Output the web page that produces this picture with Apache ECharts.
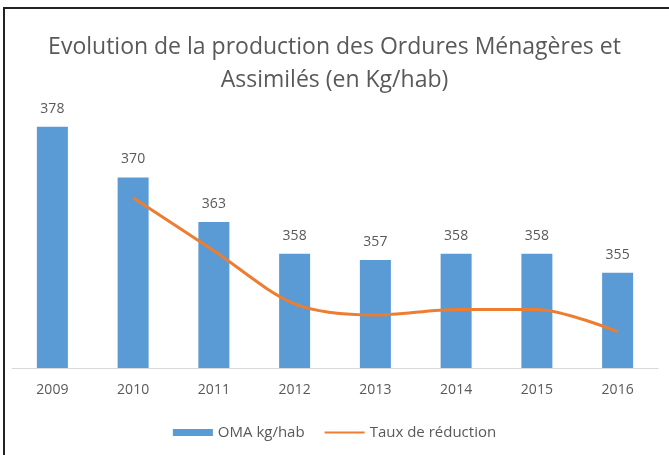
<!DOCTYPE html>
<html>
<head>
<meta charset="utf-8">
<script src="https://cdn.jsdelivr.net/npm/echarts@6/dist/echarts.min.js"></script>
<style>
  html, body { margin: 0; padding: 0; background: #fff; }
  #frame { position: absolute; left: 3px; top: 7px; width: 680px; height: 460px;
           border-left: 2px solid #222; border-top: 2px solid #222; }
  #main { position: absolute; left: 0; top: 0; width: 669px; height: 455px; }
</style>
</head>
<body>
<div id="frame"></div>
<div id="main"></div>
<script>
const years = ['2009', '2010', '2011', '2012', '2013', '2014', '2015', '2016'];
const omaKgHab = [378, 370, 363, 358, 357, 358, 358, 355];
// taux de réduction (%)
const tauxReduction = [null, -2.1, -4.0, -5.9, -6.3, -6.1, -6.1, -6.9];

let myChart = echarts.init(document.getElementById('main'));

myChart.setOption({
  animation: false,
  title: {
    text: 'Evolution de la production des Ordures Ménagères et\nAssimilés (en Kg/hab)',
    left: 'center',
    top: 26,
    textStyle: {
      fontFamily: 'Open Sans',
      fontWeight: 'normal',
      fontSize: 23,
      lineHeight: 33,
      color: '#595959'
    }
  },
  legend: {
    top: 420,
    left: 'center',
    itemWidth: 40,
    itemHeight: 7,
    itemGap: 20,
    textStyle: { fontFamily: 'Open Sans', fontSize: 15, color: '#595959' },
    data: [
      { name: 'OMA kg/hab', icon: 'rect' },
      { name: 'Taux de réduction', icon: 'path://M0,0L0,7M0,2.4L40,2.4L40,4.6L0,4.6Z' }
    ]
  },
  grid: { left: 12, right: 11, top: 114, bottom: 87 },
  xAxis: {
    type: 'category',
    data: years,
    axisTick: { show: false },
    axisLine: { onZero: false, lineStyle: { color: '#d9d9d9' } },
    axisLabel: { color: '#595959', fontFamily: 'Open Sans', fontSize: 14, margin: 15 }
  },
  yAxis: [
    { type: 'value', min: 340, max: 380, show: false, splitLine: { show: false } },
    { type: 'value', min: -8.2, max: 0.9, show: false, splitLine: { show: false } }
  ],
  series: [
    {
      name: 'OMA kg/hab',
      type: 'bar',
      data: omaKgHab,
      barWidth: 31,
      itemStyle: { color: '#5B9BD5' },
      label: {
        show: true,
        position: 'top',
        distance: 11,
        color: '#595959',
        fontFamily: 'Open Sans',
        fontSize: 14
      }
    },
    {
      name: 'Taux de réduction',
      type: 'line',
      yAxisIndex: 1,
      data: tauxReduction,
      smooth: 0.3,
      symbol: 'none',
      lineStyle: { color: '#ED7D31', width: 3 },
      itemStyle: { color: '#ED7D31' }
    }
  ]
});
</script>
</body>
</html>
